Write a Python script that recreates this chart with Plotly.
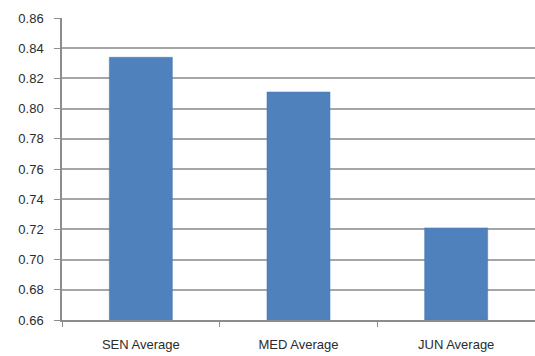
import plotly.graph_objects as go

categories = ["SEN Average", "MED Average", "JUN Average"]
values = [0.834, 0.811, 0.721]
axis_floor = 0.66

fig = go.Figure(
    go.Bar(
        x=categories,
        y=[v - axis_floor for v in values],
        base=axis_floor,
        width=0.4,
        marker=dict(color="#4f81bd", line=dict(color="#4a7ab5", width=0.5)),
    )
)

fig.update_layout(
    width=535,
    height=356,
    margin=dict(l=62, r=0, t=18, b=36),
    paper_bgcolor="white",
    plot_bgcolor="white",
    showlegend=False,
    font=dict(family="Liberation Sans, Arial, sans-serif", size=13, color="#2b2b2b"),
)
fig.update_yaxes(
    range=[axis_floor, 0.86],
    dtick=0.02,
    tick0=axis_floor,
    tickformat=".2f",
    showgrid=True,
    gridcolor="#a6a6a6",
    gridwidth=1.5,
    showline=True,
    linecolor="#8c8c8c",
    linewidth=1.5,
    ticks="outside",
    ticklen=6,
    tickcolor="#8c8c8c",
    ticklabelstandoff=8,
    zeroline=False,
)
fig.update_xaxes(
    showline=True,
    linecolor="#8c8c8c",
    linewidth=1.5,
    ticks="outside",
    tickson="boundaries",
    ticklen=5,
    tickcolor="#8c8c8c",
    ticklabelstandoff=12,
    showgrid=False,
)

fig.write_html("out.html")
